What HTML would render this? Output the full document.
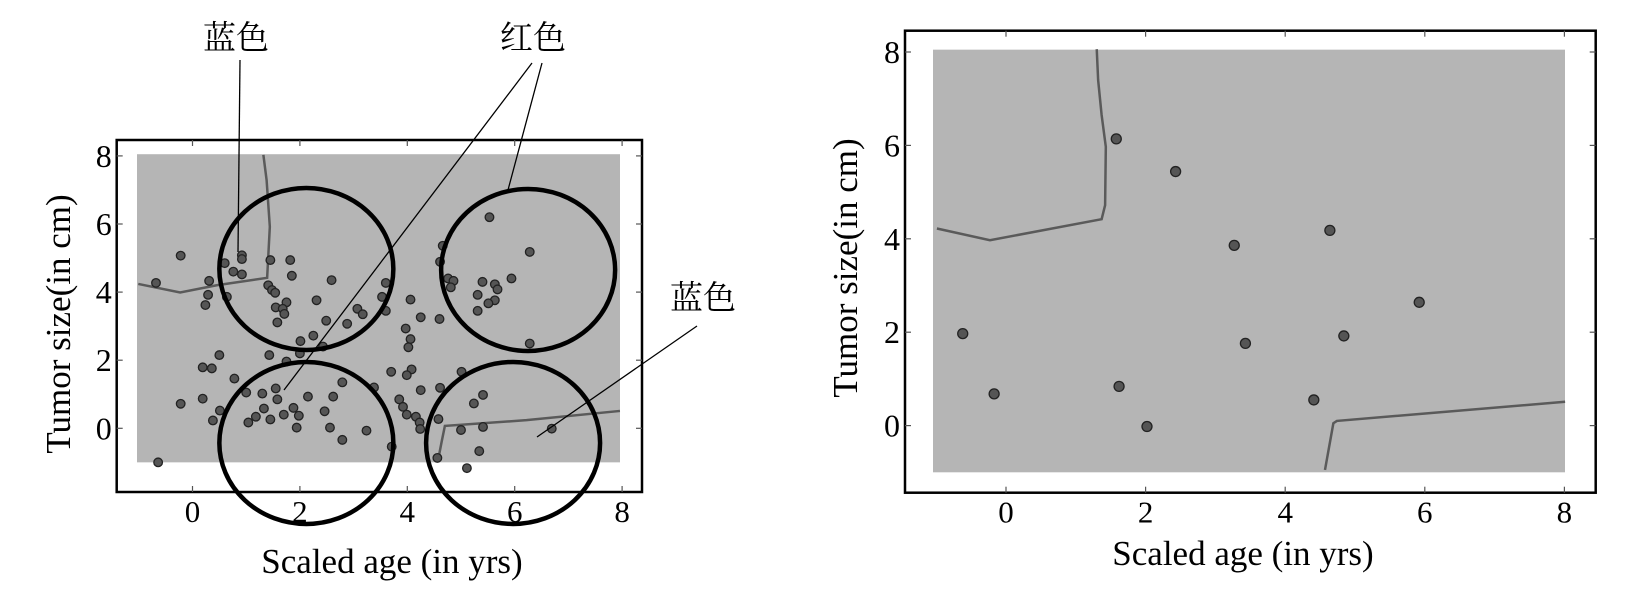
<!DOCTYPE html>
<html><head><meta charset="utf-8"><style>
html,body{margin:0;padding:0;background:#fff;}
svg{display:block;font-family:"Liberation Serif","Noto Serif CJK SC",serif;}
</style></head><body>
<svg id="fig" width="1642" height="600" viewBox="0 0 1642 600"></svg>
<script>
// ---- data: left chart ----
const leftX = [-0.22,-0.68,0.31,0.29,0.24,0.60,0.64,0.76,0.92,0.92,0.92,1.45,1.82,1.85,1.41,1.48,1.54,1.75,1.55,1.68,1.71,1.58,2.31,2.59,2.49,2.88,3.07,3.17,2.25,2.01,2.43,2.00,0.50,1.43,0.19,0.36,0.78,1.75,2.79,1.55,1.00,1.30,-0.22,0.19,1.58,2.15,2.62,0.51,0.38,1.04,1.18,1.33,1.45,1.70,1.88,1.98,1.94,2.46,2.56,2.79,3.24,-0.64,
5.53,6.28,5.94,4.66,4.61,4.76,4.86,4.81,5.40,5.63,5.68,5.31,5.63,5.51,5.31,6.28,3.60,3.53,3.60,4.06,4.25,4.60,3.97,4.06,4.02,3.70,4.08,3.99,5.01,3.38,4.25,4.61,5.41,5.24,3.85,3.92,3.99,4.16,4.23,4.24,4.58,5.00,5.41,6.69,5.34,4.56,3.71,5.11];
const leftY = [5.07,4.27,4.33,3.92,3.62,4.85,3.86,4.60,5.08,4.97,4.52,4.94,4.94,4.48,4.20,4.06,3.98,3.70,3.55,3.51,3.36,3.11,3.76,4.35,3.16,3.07,3.51,3.35,2.72,2.56,2.40,2.20,2.15,2.15,1.79,1.76,1.46,1.96,1.35,1.17,1.05,1.02,0.72,0.87,0.85,0.93,0.93,0.52,0.23,0.17,0.34,0.58,0.26,0.40,0.60,0.37,0.02,0.50,0.02,-0.34,-0.07,-1.00,
6.20,5.18,4.40,5.36,4.89,4.40,4.33,4.14,4.30,4.23,4.08,3.92,3.76,3.67,3.45,2.49,4.27,3.86,3.45,3.78,3.26,3.21,2.93,2.62,2.38,1.66,1.73,1.56,1.66,1.20,1.12,1.19,0.98,0.73,0.85,0.63,0.40,0.34,0.17,-0.02,0.27,-0.05,0.04,-0.01,-0.67,-0.87,-0.54,-1.17];
const leftBoundA_X = [-1.01,-0.23,0.45,1.39,1.44,1.38,1.32];
const leftBoundA_Y = [4.24,3.99,4.20,4.42,5.92,7.29,8.03];
const leftBoundB_X = [4.58,4.64,4.70,6.22,7.96];
const leftBoundB_Y = [-0.88,-0.39,0.07,0.24,0.51];
const circleX = [2.12,6.25,2.12,5.97];
const circleY = [4.68,4.65,-0.43,-0.43];
// ---- data: right chart ----
const rightX = [1.58,2.43,-0.62,-0.17,1.62,2.02,3.27,3.43,4.64,4.84,4.41,5.92];
const rightY = [6.14,5.44,1.97,0.68,0.84,-0.02,3.86,1.76,4.18,1.92,0.55,2.64];
const rightBoundA_X = [1.30,1.32,1.37,1.43,1.42,1.37,-0.23,-0.99];
const rightBoundA_Y = [8.06,7.40,6.65,5.97,4.72,4.42,3.97,4.22];
const rightBoundB_X = [4.57,4.69,4.74,8.01];
const rightBoundB_Y = [-0.95,0.05,0.10,0.51];
const xTicks = [0,2,4,6,8];
const yTicks = [0,2,4,6,8];

const NS="http://www.w3.org/2000/svg";
const svg=document.getElementById('fig');
function mk(tag,attrs,parent){const e=document.createElementNS(NS,tag);for(const k in attrs)e.setAttribute(k,attrs[k]);(parent||svg).appendChild(e);return e;}

function drawChart(cfg){
  const g=mk('g',{});
  
  
  const sx=v=>cfg.x0+v*cfg.kx, sy=v=>cfg.y0-v*cfg.ky;
  const bg=mk('rect',{x:cfg.gx1,y:sy(8.05),width:cfg.gx2-cfg.gx1,height:sy(-1)-sy(8.05),fill:'#b5b5b5'},g);
  
  
  const bounds=[[cfg.bAx,cfg.bAy],[cfg.bBx,cfg.bBy]];
  bounds.forEach((b,i)=>{
    const pts=b[0].map((v,j)=>sx(v)+','+sy(b[1][j])).join(' ');
    const pl=mk('polyline',{points:pts,fill:'none',stroke:'#5a5a5a','stroke-width':2.5},g);
    
    
  });
  cfg.px.forEach((v,i)=>{
    const c=mk('circle',{cx:sx(v),cy:sy(cfg.py[i]),r:cfg.r,fill:'#555',stroke:'#222','stroke-width':1.3},g);
    
    
  });
  const ax=mk('rect',{x:cfg.ax1,y:cfg.ay1,width:cfg.ax2-cfg.ax1,height:cfg.ay2-cfg.ay1,fill:'none',stroke:'#000','stroke-width':2.5},g);
  
  
  xTicks.forEach(t=>{
    mk('line',{x1:sx(t),x2:sx(t),y1:cfg.ay2,y2:cfg.ay2-6,stroke:'#555','stroke-width':1.2},g);
    mk('line',{x1:sx(t),x2:sx(t),y1:cfg.ay1,y2:cfg.ay1+6,stroke:'#555','stroke-width':1.2},g);
    const tx=mk('text',{x:sx(t),y:cfg.ay2+30,'font-size':31,'text-anchor':'middle'},g);
    tx.textContent=t;
    
    
  });
  yTicks.forEach(t=>{
    mk('line',{x1:cfg.ax1,x2:cfg.ax1+6,y1:sy(t),y2:sy(t),stroke:'#555','stroke-width':1.2},g);
    mk('line',{x1:cfg.ax2,x2:cfg.ax2-6,y1:sy(t),y2:sy(t),stroke:'#555','stroke-width':1.2},g);
    const ty=mk('text',{x:cfg.ax1-5,y:sy(t)+11,'font-size':32,'text-anchor':'end'},g);
    ty.textContent=t;
    
    
  });
  const xl=mk('text',{x:cfg.xlx,y:cfg.xly,'font-size':35,'text-anchor':'middle'},g);
  xl.textContent='Scaled age (in yrs)';
  
  
  const yl=mk('text',{x:0,y:0,'font-size':35,'text-anchor':'middle',transform:`translate(${cfg.ylx},${cfg.yly}) rotate(-90)`},g);
  yl.textContent='Tumor size(in cm)';
  
  
  return {g,sx,sy};
}

const L=drawChart({name:'left-chart',x0:192.5,kx:53.7,y0:428.3,ky:34.05,gx1:137,gx2:620,
  ax1:116.7,ax2:642,ay1:140,ay2:492,px:leftX,py:leftY,r:4.3,
  bAx:leftBoundA_X,bAy:leftBoundA_Y,bBx:leftBoundB_X,bBy:leftBoundB_Y,
  xlx:392,xly:573,ylx:70,yly:324});
const R=drawChart({name:'right-chart',x0:1006,kx:69.8,y0:425.6,ky:46.7,gx1:933,gx2:1565,
  ax1:905,ax2:1595.7,ay1:30.7,ay2:492.7,px:rightX,py:rightY,r:5,
  bAx:rightBoundA_X,bAy:rightBoundA_Y,bBx:rightBoundB_X,bBy:rightBoundB_Y,
  xlx:1243,xly:565,ylx:857,yly:268});

// highlight circles on left chart
circleX.forEach((v,i)=>{
  const e=mk('ellipse',{cx:L.sx(v),cy:L.sy(circleY[i]),rx:87,ry:81,fill:'none',stroke:'#000','stroke-width':4.5});
  
  
});
// annotation lines
[[240,60,238,252],[542,63,508,190],[532,63,284,390],[697,326,537,437]].forEach(a=>{
  const l=mk('line',{x1:a[0],y1:a[1],x2:a[2],y2:a[3],stroke:'#000','stroke-width':1.3});
  
  
});
[['蓝色',236,49],['红色',533,49],['蓝色',703,309]].forEach(a=>{
  const t=mk('text',{x:a[1],y:a[2],'font-size':33,'text-anchor':'middle','font-family':'"Noto Serif CJK SC","Noto Sans CJK SC",serif'});
  t.textContent=a[0];
  
  
});
</script>
</body></html>
